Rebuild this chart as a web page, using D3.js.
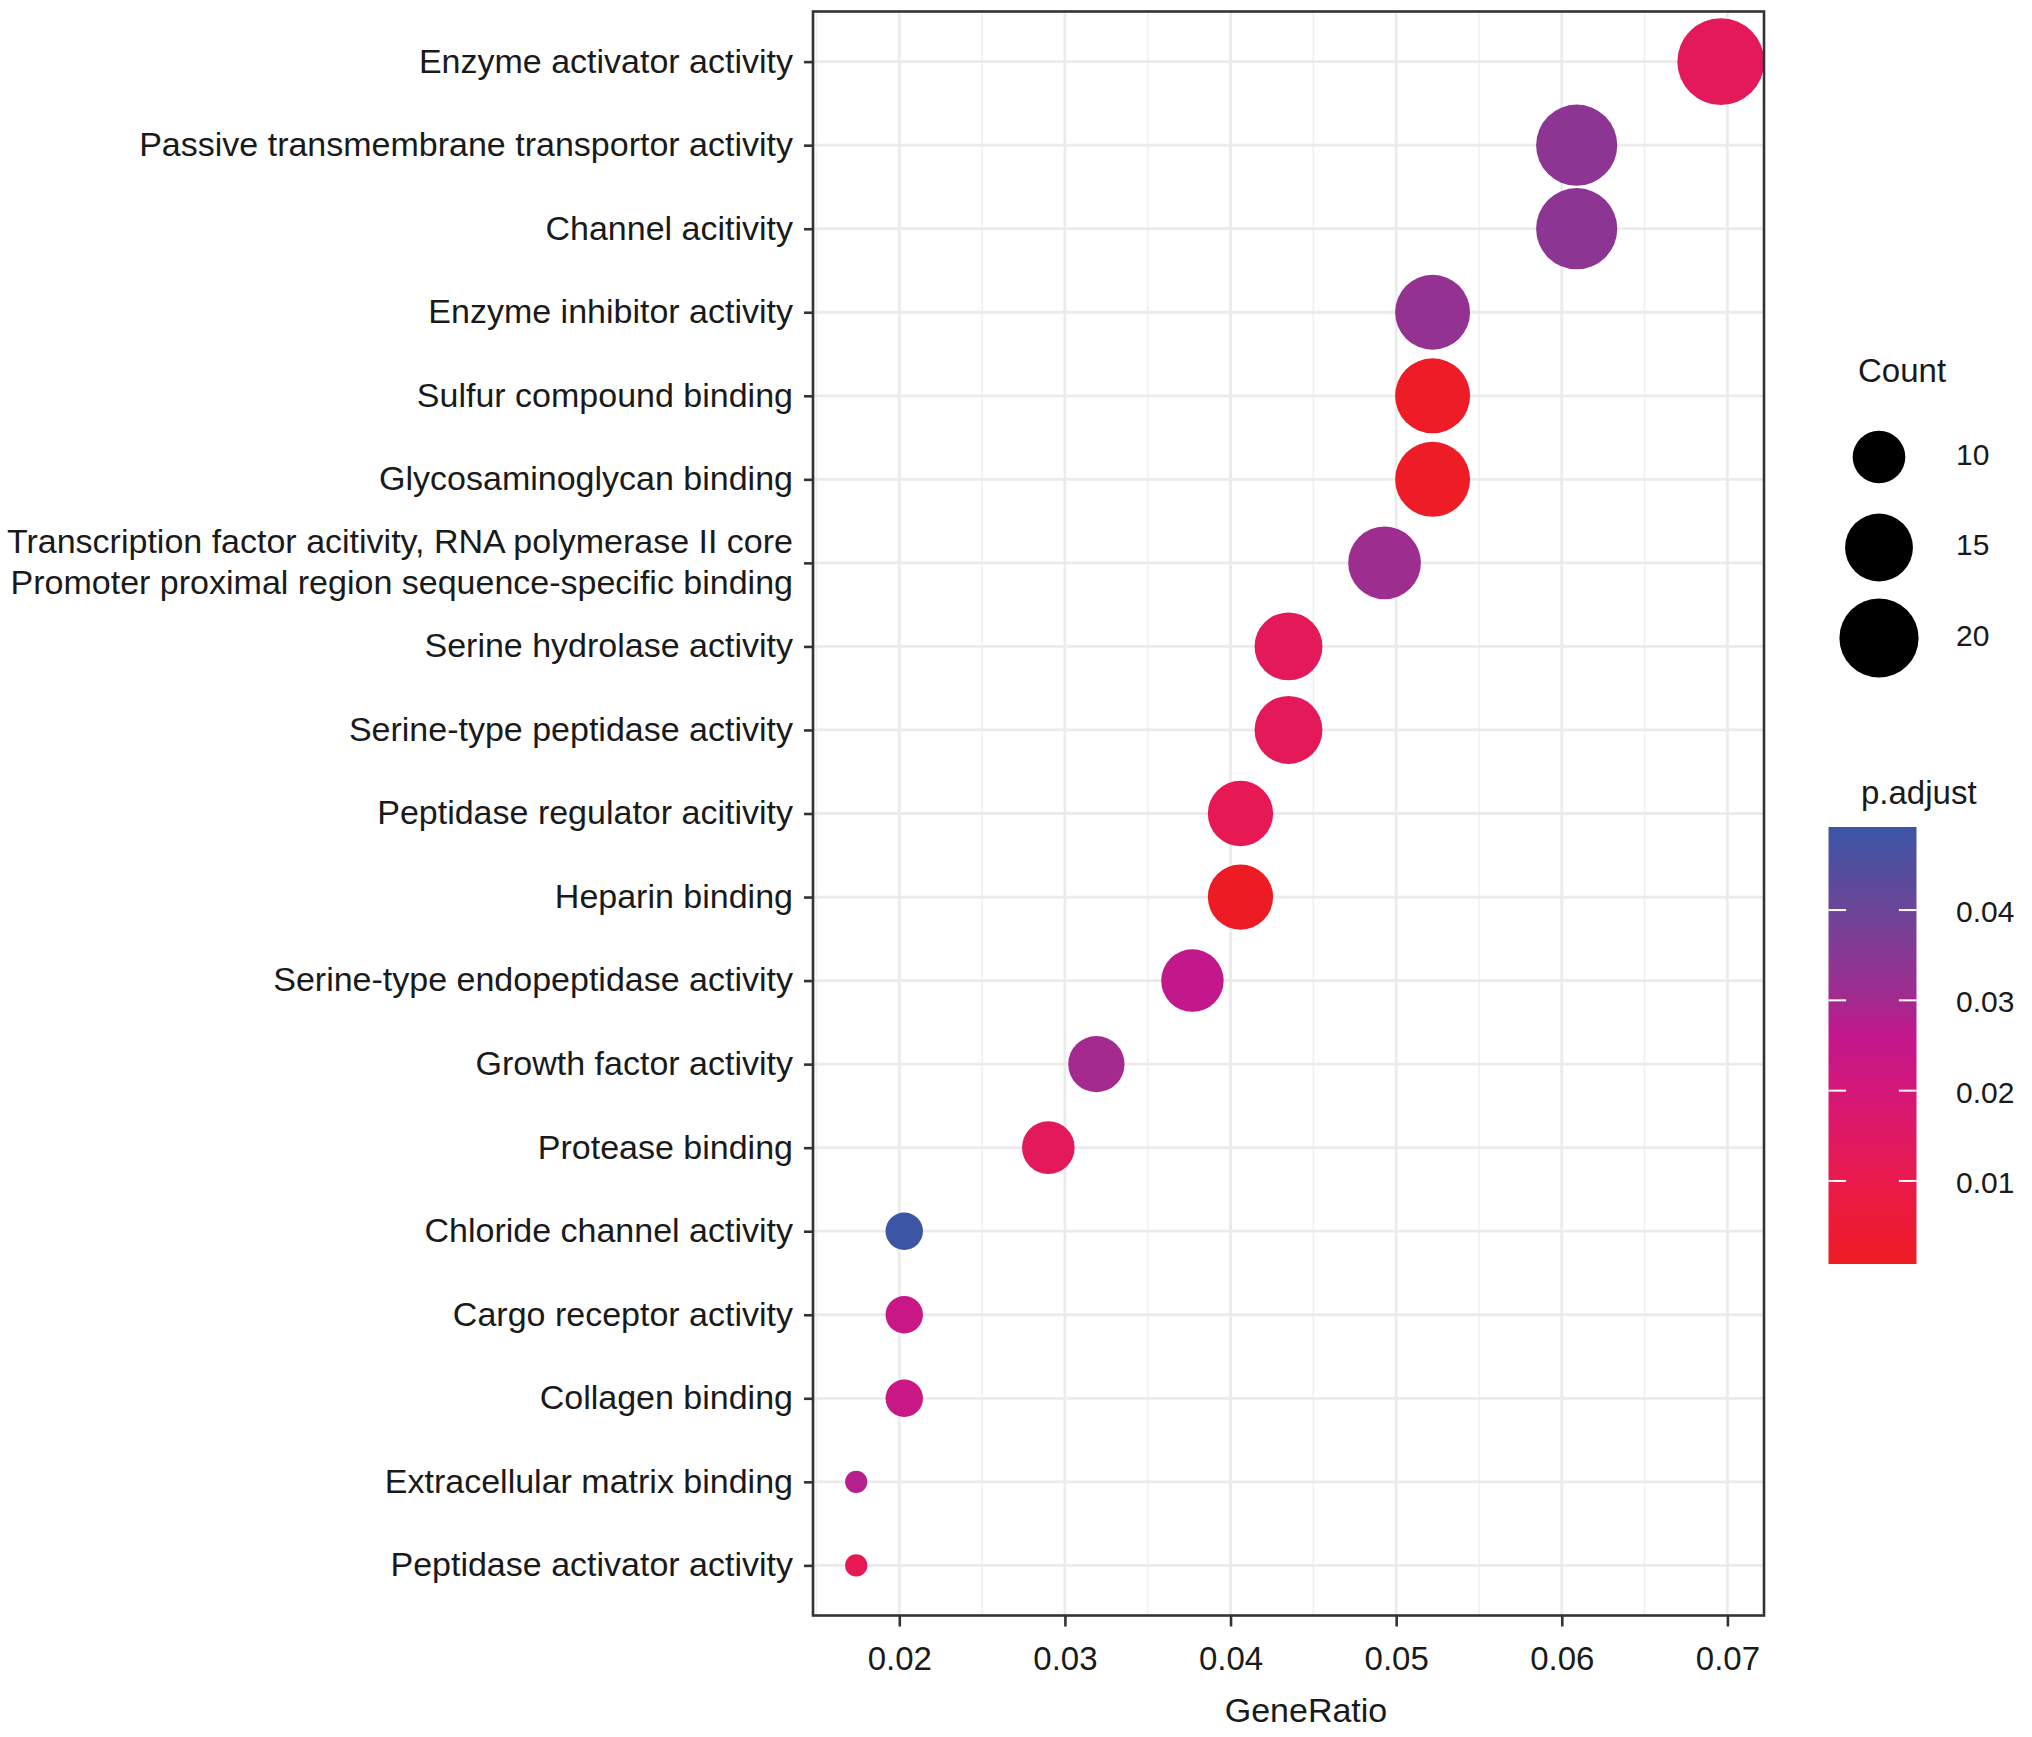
<!DOCTYPE html>
<html>
<head>
<meta charset="utf-8">
<script src="https://cdn.jsdelivr.net/npm/d3@7"></script>
<style>
  body { margin: 0; background: #fff; }
  text { font-family: 'Liberation Sans', Arial, Helvetica, sans-serif; }
</style>
</head>
<body>
<svg id="chart"></svg>
<script>
// GO terms, top to bottom as drawn
const categories = [
  'Enzyme activator activity',
  'Passive transmembrane transportor activity',
  'Channel acitivity',
  'Enzyme inhibitor activity',
  'Sulfur compound binding',
  'Glycosaminoglycan binding',
  'Transcription factor acitivity, RNA polymerase II core\nPromoter proximal region sequence-specific binding',
  'Serine hydrolase activity',
  'Serine-type peptidase activity',
  'Peptidase regulator acitivity',
  'Heparin binding',
  'Serine-type endopeptidase activity',
  'Growth factor activity',
  'Protease binding',
  'Chloride channel activity',
  'Cargo receptor activity',
  'Collagen binding',
  'Extracellular matrix binding',
  'Peptidase activator activity'
];
const geneRatio = [0.0696, 0.0609, 0.0609, 0.0522, 0.0522, 0.0522, 0.0493, 0.0435, 0.0435, 0.0406,
  0.0406, 0.0377, 0.0319, 0.0290, 0.0203, 0.0203, 0.0203, 0.0174, 0.0174];
const counts = [24, 21, 21, 18, 18, 18, 17, 15, 15, 14, 14, 13, 11, 10, 7, 7, 7, 6, 6];
const pAdjust = [0.013, 0.034, 0.034, 0.033, 0.0012, 0.0012, 0.031, 0.013, 0.013, 0.012,
  0.0008, 0.026, 0.030, 0.013, 0.0492, 0.024, 0.024, 0.028, 0.012];

const xTicks = [0.02, 0.03, 0.04, 0.05, 0.06, 0.07];
const sizeBreaks = [10, 15, 20];
const colorBreaks = [0.01, 0.02, 0.03, 0.04];

// red -> blue gradient as it appears in the print
const paletteAt = [0, 0.01, 0.02, 0.0263, 0.03, 0.04, 1];
const paletteColors = ['#ed1c24', '#ea1a4c', '#d4177a', '#c2178d', '#a42a8f', '#6b4597', '#3c55a5'];

const data = categories.map((c, i) => ({
  term: c, ratio: geneRatio[i], count: counts[i], p: pAdjust[i]
}));

const width = 2032;
const height = 1737;
const panel = { left: 813, right: 1764, top: 11.5, bottom: 1615.5 };

const svg = d3.select('#chart')
  .attr('width', width)
  .attr('height', height);

const [rLo, rHi] = d3.extent(geneRatio);
const pad = (rHi - rLo) * 0.05;
const x = d3.scaleLinear()
  .domain([rLo - pad, rHi + pad])
  .range([panel.left, panel.right]);

const y = d3.scalePoint()
  .domain(categories)
  .range([panel.top, panel.bottom])
  .padding(0.6);

// size: area-style mapping like ggplot scale_size
const sizeT = d3.scaleLinear().domain(d3.extent(counts)).range([0, 1]);
const sizeR = d3.scaleLinear().domain([0, 1]).range([11.1, 43.4]);
const radius = c => sizeR(Math.sqrt(Math.max(0, sizeT(c))));

const [pLo, pHi] = d3.extent(pAdjust);
const colorDomain = paletteAt.map(v => v === 0 ? pLo : v === 1 ? pHi : v);
const color = d3.scaleLinear()
  .domain(colorDomain)
  .range(paletteColors)
  .interpolate(d3.interpolateRgb)
  .clamp(true);

// grid
const grid = svg.append('g');
const minor = [];
for (let i = 0; i <= xTicks.length; i++) {
  const a = i === 0 ? xTicks[0] - 0.01 : xTicks[i - 1];
  const b = i === xTicks.length ? xTicks[i - 1] + 0.01 : xTicks[i];
  const m = (a + b) / 2;
  if (m > x.domain()[0] && m < x.domain()[1]) minor.push(m);
}
grid.selectAll('.minor')
  .data(minor)
  .enter().append('line')
  .attr('x1', d => x(d)).attr('x2', d => x(d))
  .attr('y1', panel.top).attr('y2', panel.bottom)
  .attr('stroke', '#f0f0f0')
  .attr('stroke-width', 1.6);
grid.selectAll('.vmajor')
  .data(xTicks)
  .enter().append('line')
  .attr('x1', d => x(d)).attr('x2', d => x(d))
  .attr('y1', panel.top).attr('y2', panel.bottom)
  .attr('stroke', '#ebebeb')
  .attr('stroke-width', 2.8);
grid.selectAll('.hmajor')
  .data(categories)
  .enter().append('line')
  .attr('x1', panel.left).attr('x2', panel.right)
  .attr('y1', d => y(d)).attr('y2', d => y(d))
  .attr('stroke', '#ebebeb')
  .attr('stroke-width', 2.8);

// dots
svg.append('clipPath')
  .attr('id', 'panel-clip')
  .append('rect')
  .attr('x', panel.left).attr('y', panel.top)
  .attr('width', panel.right - panel.left)
  .attr('height', panel.bottom - panel.top);

svg.append('g')
  .attr('clip-path', 'url(#panel-clip)')
  .selectAll('circle')
  .data(data)
  .enter().append('circle')
  .attr('cx', d => x(d.ratio))
  .attr('cy', d => y(d.term))
  .attr('r', d => radius(d.count))
  .attr('fill', d => color(d.p));

// panel border
svg.append('rect')
  .attr('x', panel.left).attr('y', panel.top)
  .attr('width', panel.right - panel.left)
  .attr('height', panel.bottom - panel.top)
  .attr('fill', 'none')
  .attr('stroke', '#333')
  .attr('stroke-width', 2.6);

// x axis
const xAxis = svg.append('g')
  .attr('transform', `translate(0,${panel.bottom})`)
  .call(d3.axisBottom(x).tickValues(xTicks).tickFormat(d3.format('.2f')).tickSize(11).tickPadding(20));
xAxis.select('.domain').remove();
xAxis.selectAll('line').attr('stroke', '#333').attr('stroke-width', 2.6);
xAxis.selectAll('text')
  .attr('fill', '#1a1a1a')
  .style('font-size', '33px')
  .style('font-family', "'Liberation Sans', Arial, sans-serif");

svg.append('text')
  .attr('x', 1306)
  .attr('y', 1722)
  .attr('text-anchor', 'middle')
  .attr('fill', '#1a1a1a')
  .style('font-size', '34px')
  .text('GeneRatio');

// y axis
const yAxis = svg.append('g')
  .attr('transform', `translate(${panel.left},0)`)
  .call(d3.axisLeft(y).tickSize(9).tickPadding(8).tickFormat(''));
yAxis.select('.domain').remove();
yAxis.selectAll('line').attr('stroke', '#333').attr('stroke-width', 2.6);

const yLabels = svg.append('g')
  .selectAll('text')
  .data(categories)
  .enter().append('text')
  .attr('x', 793)
  .attr('y', d => y(d))
  .attr('text-anchor', 'end')
  .attr('fill', '#1a1a1a')
  .style('font-size', '34px');
yLabels.each(function (d) {
  const lines = d.split('\n');
  const t = d3.select(this);
  lines.forEach((line, i) => {
    t.append('tspan')
      .attr('x', 793)
      .attr('dy', i === 0 ? (0.32 - (lines.length - 1) * 0.61) + 'em' : '1.22em')
      .text(line);
  });
});

// size legend
const sizeLegend = svg.append('g');
sizeLegend.append('text')
  .attr('x', 1858).attr('y', 382)
  .attr('fill', '#1a1a1a')
  .style('font-size', '33px')
  .text('Count');
const sizeY = d3.scalePoint().domain(sizeBreaks).range([457, 638]);
sizeLegend.selectAll('circle')
  .data(sizeBreaks)
  .enter().append('circle')
  .attr('cx', 1879)
  .attr('cy', d => sizeY(d))
  .attr('r', d => radius(d))
  .attr('fill', '#000');
sizeLegend.selectAll('.lab')
  .data(sizeBreaks)
  .enter().append('text')
  .attr('x', 1956)
  .attr('y', d => sizeY(d))
  .attr('dy', '0.26em')
  .attr('fill', '#1a1a1a')
  .style('font-size', '30px')
  .text(d => d);

// colour legend
const bar = { x: 1828.5, w: 88, top: 827, bottom: 1264 };
const barY = d3.scaleLinear().domain([pLo, pHi]).range([bar.bottom, bar.top]);

const defs = svg.append('defs');
const grad = defs.append('linearGradient')
  .attr('id', 'padj-grad')
  .attr('x1', 0).attr('y1', 1).attr('x2', 0).attr('y2', 0);
d3.range(0, 1.0001, 0.02).forEach(t => {
  grad.append('stop')
    .attr('offset', t)
    .attr('stop-color', color(pLo + t * (pHi - pLo)));
});

svg.append('text')
  .attr('x', 1861).attr('y', 804)
  .attr('fill', '#1a1a1a')
  .style('font-size', '33px')
  .text('p.adjust');

svg.append('rect')
  .attr('x', bar.x).attr('y', bar.top)
  .attr('width', bar.w).attr('height', bar.bottom - bar.top)
  .attr('fill', 'url(#padj-grad)');

const cTicks = svg.append('g');
cTicks.selectAll('.l')
  .data(colorBreaks)
  .enter().append('line')
  .attr('x1', bar.x).attr('x2', bar.x + bar.w / 5)
  .attr('y1', d => barY(d)).attr('y2', d => barY(d))
  .attr('stroke', '#fff').attr('stroke-width', 2);
cTicks.selectAll('.r')
  .data(colorBreaks)
  .enter().append('line')
  .attr('x1', bar.x + bar.w * 4 / 5).attr('x2', bar.x + bar.w)
  .attr('y1', d => barY(d)).attr('y2', d => barY(d))
  .attr('stroke', '#fff').attr('stroke-width', 2);
cTicks.selectAll('text')
  .data(colorBreaks)
  .enter().append('text')
  .attr('x', 1956)
  .attr('y', d => barY(d))
  .attr('dy', '0.4em')
  .attr('fill', '#1a1a1a')
  .style('font-size', '30px')
  .text(d => d3.format('.2f')(d));
</script>
</body>
</html>
